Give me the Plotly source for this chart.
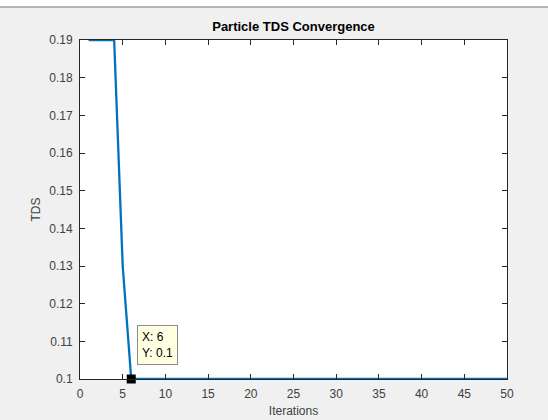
import plotly.graph_objects as go

iterations = [1, 2, 3, 4, 5, 6, 7, 8, 9, 10, 11, 12, 13, 14, 15, 16, 17, 18, 19, 20,
              21, 22, 23, 24, 25, 26, 27, 28, 29, 30, 31, 32, 33, 34, 35, 36, 37, 38, 39, 40,
              41, 42, 43, 44, 45, 46, 47, 48, 49, 50]
tds = [0.19, 0.19, 0.19, 0.19, 0.13, 0.1, 0.1, 0.1, 0.1, 0.1,
       0.1, 0.1, 0.1, 0.1, 0.1, 0.1, 0.1, 0.1, 0.1, 0.1,
       0.1, 0.1, 0.1, 0.1, 0.1, 0.1, 0.1, 0.1, 0.1, 0.1,
       0.1, 0.1, 0.1, 0.1, 0.1, 0.1, 0.1, 0.1, 0.1, 0.1,
       0.1, 0.1, 0.1, 0.1, 0.1, 0.1, 0.1, 0.1, 0.1, 0.1]
tip_x = [6]
tip_y = [0.1]
x_ticks = [0, 5, 10, 15, 20, 25, 30, 35, 40, 45, 50]
y_ticks = [0.1, 0.11, 0.12, 0.13, 0.14, 0.15, 0.16, 0.17, 0.18, 0.19]
y_labels = ["0.1", "0.11", "0.12", "0.13", "0.14", "0.15", "0.16", "0.17", "0.18", "0.19"]

W, H = 548, 420
L, R, T, B = 80, 41, 40, 41
ph = H - T - B

fig = go.Figure()
fig.add_trace(go.Scatter(x=iterations, y=tds, mode="lines",
                         line=dict(color="#0072BD", width=2.3), hoverinfo="skip",
                         showlegend=False, cliponaxis=False))
fig.add_trace(go.Scatter(x=tip_x, y=tip_y, mode="markers",
                         marker=dict(symbol="square", size=9, color="black"),
                         showlegend=False, cliponaxis=False))

axis_font = dict(family="Liberation Sans, Arial, sans-serif", size=12, color="#404040")
fig.update_xaxes(range=[0, 50], tickvals=x_ticks, ticks="inside", ticklen=5,
                 tickcolor="#262626", showline=True, linecolor="#262626", linewidth=1,
                 mirror="allticks", showgrid=False, zeroline=False, tickfont=axis_font,
                 ticklabelstandoff=4, automargin=False,
                 title=dict(text="Iterations", font=axis_font, standoff=6))
fig.update_yaxes(range=[0.1, 0.19], tickvals=y_ticks, ticktext=y_labels, ticks="inside",
                 ticklen=5, tickcolor="#262626", showline=True, linecolor="#262626",
                 linewidth=1, mirror="allticks", showgrid=False, zeroline=False,
                 tickfont=axis_font, ticklabelstandoff=4, automargin=False,
                 title=dict(text="TDS", font=axis_font, standoff=6))

fig.add_annotation(x=tip_x[0], y=tip_y[0], xref="x", yref="y",
                   text="X: 6<br>Y: 0.1", showarrow=False, align="left",
                   xanchor="left", yanchor="bottom", xshift=6, yshift=14,
                   bgcolor="#ffffe1", bordercolor="#8c8c8c", borderwidth=1, borderpad=4,
                   font=dict(family="Liberation Sans, Arial, sans-serif", size=12, color="black"))

# top strip from screenshot
fig.add_shape(type="rect", xref="paper", yref="paper",
              x0=-L / (W - L - R), x1=1 + R / (W - L - R),
              y0=1 + (T - 6) / ph, y1=1 + T / ph + 0.01,
              fillcolor="white", line=dict(width=0), layer="below")
fig.add_shape(type="line", xref="paper", yref="paper",
              x0=-L / (W - L - R), x1=1 + R / (W - L - R),
              y0=1 + (T - 7) / ph, y1=1 + (T - 7) / ph,
              line=dict(color="#a0a0a0", width=1.5))

fig.update_layout(
    width=W, height=H,
    margin=dict(l=L, r=R, t=T, b=B, autoexpand=False),
    paper_bgcolor="#f0f0f0", plot_bgcolor="white",
    title=dict(text="<b>Particle TDS Convergence</b>", x=(L + (W - L - R) / 2) / W,
               xanchor="center", y=1 - 26 / H, yanchor="middle",
               font=dict(family="Liberation Sans, Arial, sans-serif", size=13, color="black")),
)

fig.write_html("out.html")
